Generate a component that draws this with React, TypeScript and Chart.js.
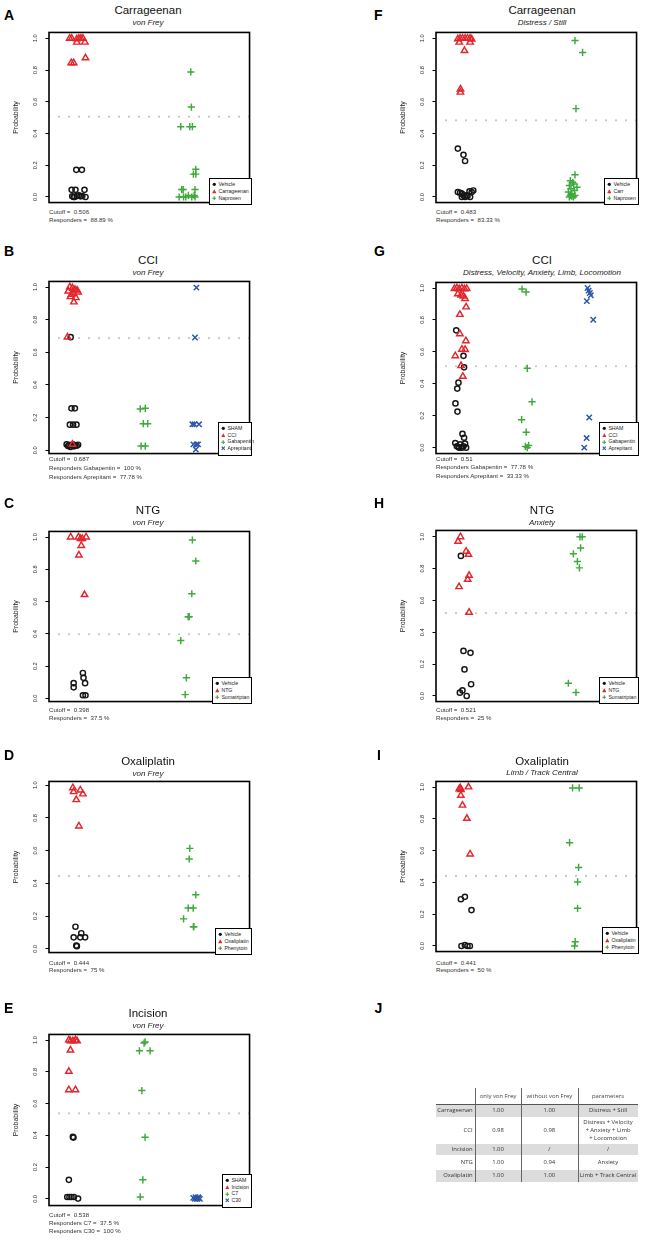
import React, { useEffect, useRef } from "react";
import { Chart, registerables } from "chart.js";
Chart.register(...registerables);

const FONT = '"Liberation Sans", Arial, Helvetica, sans-serif';
const TABLE_FONT = '"Open Sans", "Liberation Sans", sans-serif';

const yTicks = [0, 0.2, 0.4, 0.6, 0.8, 1.0];
const yTickLabels = ["0.0", "0.2", "0.4", "0.6", "0.8", "1.0"];

// ---------- A: Carrageenan, von Frey ----------
const aVehicleY = [0.171, 0.171, 0.045, 0.045, 0.045, 0.004, 0.0, 0.006, 0.01, 0.004, 0.006, 0.0, 0.0];
const aVehicleX = [0.136, 0.164, 0.113, 0.132, 0.177, 0.116, 0.127, 0.139, 0.149, 0.157, 0.166, 0.182, 0.123];
const aCarrY = [1.0, 1.0, 0.996, 1.0, 1.0, 1.0, 0.975, 0.975, 0.845, 0.845, 0.876];
const aCarrX = [0.103, 0.113, 0.139, 0.149, 0.159, 0.169, 0.139, 0.179, 0.111, 0.123, 0.182];
const aNapY = [0.788, 0.567, 0.443, 0.443, 0.443, 0.175, 0.144, 0.144, 0.047, 0.047, 0.047, 0, 0, 0.01, 0, 0, 0, 0.01];
const aNapX = [0.707, 0.71, 0.657, 0.702, 0.715, 0.732, 0.72, 0.732, 0.662, 0.669, 0.728, 0.649, 0.682, 0.695, 0.712, 0.728, 0.671, 0.724];

// ---------- B: CCI, von Frey ----------
const bShamY = [0.693, 0.257, 0.257, 0.157, 0.157, 0.157, 0.036, 0.026, 0.032, 0.02, 0.03, 0.036, 0.024, 0.03, 0.028, 0.034];
const bShamX = [0.108, 0.112, 0.129, 0.104, 0.12, 0.137, 0.088, 0.095, 0.101, 0.107, 0.113, 0.119, 0.125, 0.131, 0.138, 0.145];
const bCciY = [1.0, 0.994, 0.984, 0.98, 0.974, 0.964, 0.968, 0.94, 0.934, 0.908, 0.955, 0.693, 0.036];
const bCciX = [0.104, 0.117, 0.129, 0.14, 0.096, 0.12, 0.145, 0.107, 0.134, 0.124, 0.112, 0.092, 0.117];
const bGabaY = [0.253, 0.257, 0.163, 0.163, 0.026, 0.026];
const bGabaX = [0.455, 0.48, 0.47, 0.492, 0.459, 0.48];
const bAprY = [0.996, 0.691, 0.159, 0.159, 0.159, 0.036, 0.036, 0.036, 0.005];
const bAprX = [0.735, 0.728, 0.715, 0.748, 0.725, 0.72, 0.743, 0.735, 0.732];

// ---------- C: NTG, von Frey ----------
const cVehicleY = [0.158, 0.128, 0.095, 0.095, 0.069, 0.02, 0.02];
const cVehicleX = [0.169, 0.172, 0.123, 0.18, 0.123, 0.169, 0.182];
const cNtgY = [1.0, 1.0, 0.99, 0.99, 1.0, 0.947, 0.888, 0.643];
const cNtgX = [0.108, 0.147, 0.157, 0.166, 0.185, 0.161, 0.149, 0.177];
const cSumaY = [0.982, 0.852, 0.649, 0.507, 0.507, 0.359, 0.128, 0.024];
const cSumaX = [0.715, 0.732, 0.712, 0.694, 0.699, 0.657, 0.685, 0.679];

// ---------- D: Oxaliplatin, von Frey ----------
const dVehicleY = [0.135, 0.07, 0.095, 0.07, 0.07, 0.02, 0.016];
const dVehicleX = [0.132, 0.123, 0.161, 0.156, 0.18, 0.136, 0.139];
const dOxaY = [0.984, 0.96, 0.97, 0.946, 0.911, 0.75];
const dOxaX = [0.119, 0.123, 0.156, 0.169, 0.136, 0.149];
const dPheY = [0.614, 0.549, 0.33, 0.249, 0.249, 0.183, 0.135, 0.135];
const dPheX = [0.702, 0.699, 0.732, 0.694, 0.719, 0.671, 0.72, 0.722];

// ---------- E: Incision, von Frey ----------
const eShamY = [0.39, 0.386, 0.12, 0.012, 0.012, 0.012, 0.012, 0.002];
const eShamX = [0.119, 0.122, 0.099, 0.091, 0.102, 0.112, 0.124, 0.145];
const eIncY = [1.0, 0.994, 0.994, 1.0, 0.994, 0.936, 0.802, 0.686, 0.686];
const eIncX = [0.099, 0.107, 0.119, 0.132, 0.14, 0.107, 0.099, 0.099, 0.132];
const eC7Y = [0.981, 0.988, 0.932, 0.932, 0.682, 0.388, 0.12, 0.012];
const eC7X = [0.474, 0.479, 0.451, 0.504, 0.463, 0.479, 0.468, 0.455];
const eC30Y = [0.006, 0.0, 0.002, 0.01, 0.0, 0.01, 0.0, 0.006];
const eC30X = [0.719, 0.727, 0.736, 0.744, 0.752, 0.731, 0.74, 0.747];

// ---------- F: Carrageenan, Distress / Still ----------
const fVehicleY = [0.305, 0.266, 0.227, 0.031, 0.027, 0.021, 0.01, 0.0, 0.006, 0.035, 0.031, 0.041, 0.0, 0.0, 0.01];
const fVehicleX = [0.109, 0.137, 0.145, 0.109, 0.12, 0.129, 0.137, 0.145, 0.157, 0.167, 0.178, 0.186, 0.129, 0.17, 0.153];
const fCarrY = [0.996, 1.0, 1.0, 1.0, 1.0, 1.0, 0.994, 0.975, 0.975, 0.922, 0.68, 0.66];
const fCarrX = [0.109, 0.12, 0.132, 0.145, 0.157, 0.17, 0.178, 0.116, 0.17, 0.142, 0.122, 0.122];
const fNapY = [0.986, 0.911, 0.557, 0.14, 0.103, 0.093, 0.082, 0.072, 0.062, 0.052, 0.041, 0.031, 0.021, 0.01, 0.0, 0.0, 0.006, 0.01];
const fNapX = [0.693, 0.731, 0.698, 0.693, 0.67, 0.682, 0.687, 0.665, 0.703, 0.673, 0.69, 0.66, 0.677, 0.67, 0.665, 0.685, 0.677, 0.693];

// ---------- G: CCI, multi-parameter ----------
const gShamY = [0.735, 0.575, 0.503, 0.407, 0.37, 0.277, 0.226, 0.086, 0.062, 0.029, 0.008, 0.004, 0.021, 0.0, 0.008, 0.025, 0.0, 0.0];
const gShamX = [0.101, 0.137, 0.14, 0.112, 0.106, 0.097, 0.107, 0.132, 0.14, 0.096, 0.104, 0.112, 0.12, 0.129, 0.137, 0.145, 0.15, 0.116];
const gCciY = [0.996, 1.0, 0.994, 1.0, 0.994, 0.996, 0.963, 0.955, 0.949, 0.934, 0.881, 0.834, 0.713, 0.669, 0.616, 0.614, 0.575, 0.513, 0.446];
const gCciX = [0.092, 0.104, 0.116, 0.129, 0.142, 0.153, 0.109, 0.125, 0.137, 0.145, 0.15, 0.119, 0.119, 0.149, 0.129, 0.145, 0.096, 0.125, 0.134];
const gGabaY = [0.994, 0.975, 0.497, 0.287, 0.175, 0.097, 0.008, 0.014, 0.0];
const gGabaX = [0.429, 0.449, 0.455, 0.479, 0.427, 0.45, 0.446, 0.462, 0.455];
const gAprY = [1.0, 0.984, 0.969, 0.955, 0.918, 0.801, 0.189, 0.06, 0.0];
const gAprX = [0.756, 0.761, 0.767, 0.772, 0.752, 0.784, 0.764, 0.751, 0.739];

// ---------- H: NTG, Anxiety ----------
const hVehicleY = [0.88, 0.283, 0.271, 0.167, 0.074, 0.035, 0.021, 0.0];
const hVehicleX = [0.124, 0.137, 0.172, 0.142, 0.175, 0.132, 0.119, 0.153];
const hNtgY = [1.0, 0.971, 0.909, 0.889, 0.757, 0.732, 0.686, 0.525];
const hNtgX = [0.122, 0.11, 0.15, 0.162, 0.165, 0.158, 0.115, 0.165];
const hSumaY = [1.0, 1.0, 0.93, 0.893, 0.845, 0.805, 0.08, 0.022];
const hSumaX = [0.718, 0.729, 0.721, 0.685, 0.705, 0.715, 0.66, 0.698];

// ---------- I: Oxaliplatin, Limb / Track Central ----------
const iVehicleY = [0.294, 0.309, 0.226, 0.0, 0.006, 0.0, 0.0];
const iVehicleX = [0.124, 0.144, 0.177, 0.127, 0.144, 0.157, 0.169];
const iOxaY = [0.988, 0.984, 0.994, 1.0, 0.947, 0.885, 0.802, 0.578];
const iOxaX = [0.116, 0.124, 0.121, 0.162, 0.124, 0.132, 0.154, 0.17];
const iPheY = [0.994, 0.994, 0.65, 0.494, 0.403, 0.237, 0.027, 0.0];
const iPheX = [0.681, 0.714, 0.666, 0.711, 0.706, 0.706, 0.694, 0.691];

// ---------- J: table ----------
const tableHeaders = ["", "only von Frey", "without von Frey", "parameters"];
const tableModels = ["Carrageenan", "CCI", "Incision", "NTG", "Oxaliplatin"];
const onlyVonFrey = ["1.00", "0.98", "1.00", "1.00", "1.00"];
const withoutVonFrey = ["1.00", "0.98", "/", "0.94", "1.00"];
const tableParameters = [["Distress + Still"], ["Distress + Velocity", "+ Anxiety + Limb", "+ Locomotion"], ["/"], ["Anxiety"], ["Limb + Track Central"]];

type Kind = "circle" | "triangle" | "plus" | "x";
interface Group { label: string; kind: Kind; ys: number[]; xs: number[] }
interface Panel {
  letter: string; title: string; subtitle: string; col: 0 | 1;
  top: number; bottom: number; ymin: number; ymax: number; cutoff: number;
  titleY: number; subY: number; letterY: number; noteY: number[]; notes: string[];
  legendW: number; groups: Group[];
}

const COLORS: Record<Kind, string> = { circle: "#151515", triangle: "#e2262c", plus: "#3daa3a", x: "#2b55a8" };
const STYLE: Record<Kind, any> = {
  circle: { pointStyle: "circle", radius: 2.6 },
  triangle: { pointStyle: "triangle", radius: 3.7 },
  plus: { pointStyle: "cross", radius: 3.6 },
  x: { pointStyle: "crossRot", radius: 3.8 },
};

const panels: Panel[] = [
  {
    letter: "A", title: "Carrageenan", subtitle: "von Frey", col: 0, top: 31, bottom: 204, ymin: -0.035, ymax: 1.037, cutoff: 0.506,
    titleY: 10, subY: 23, letterY: 15, noteY: [212, 220.3], notes: ["Cutoff =  0.506", "Responders =  88.89 %"], legendW: 43,
    groups: [
      { label: "Vehicle", kind: "circle", ys: aVehicleY, xs: aVehicleX },
      { label: "Carrageenan", kind: "triangle", ys: aCarrY, xs: aCarrX },
      { label: "Naproxen", kind: "plus", ys: aNapY, xs: aNapX },
    ],
  },
  {
    letter: "B", title: "CCI", subtitle: "von Frey", col: 0, top: 280, bottom: 455, ymin: -0.02, ymax: 1.034, cutoff: 0.687,
    titleY: 260.7, subY: 273, letterY: 251, noteY: [459, 468, 477], notes: ["Cutoff =  0.687", "Responders Gabapentin =  100 %", "Responders Aprepitant =  77.78 %"], legendW: 34,
    groups: [
      { label: "SHAM", kind: "circle", ys: bShamY, xs: bShamX },
      { label: "CCI", kind: "triangle", ys: bCciY, xs: bCciX },
      { label: "Gabapentin", kind: "plus", ys: bGabaY, xs: bGabaX },
      { label: "Aprepitant", kind: "x", ys: bAprY, xs: bAprX },
    ],
  },
  {
    letter: "C", title: "NTG", subtitle: "von Frey", col: 0, top: 530, bottom: 703, ymin: -0.019, ymax: 1.035, cutoff: 0.398,
    titleY: 510, subY: 523, letterY: 503, noteY: [710, 718.3], notes: ["Cutoff =  0.398", "Responders =  37.5 %"], legendW: 40,
    groups: [
      { label: "Vehicle", kind: "circle", ys: cVehicleY, xs: cVehicleX },
      { label: "NTG", kind: "triangle", ys: cNtgY, xs: cNtgX },
      { label: "Sumatriptan", kind: "plus", ys: cSumaY, xs: cSumaX },
    ],
  },
  {
    letter: "D", title: "Oxaliplatin", subtitle: "von Frey", col: 0, top: 780, bottom: 954, ymin: -0.023, ymax: 1.023, cutoff: 0.444,
    titleY: 761, subY: 774, letterY: 755, noteY: [962.7, 970], notes: ["Cutoff =  0.444", "Responders =  75 %"], legendW: 37,
    groups: [
      { label: "Vehicle", kind: "circle", ys: dVehicleY, xs: dVehicleX },
      { label: "Oxaliplatin", kind: "triangle", ys: dOxaY, xs: dOxaX },
      { label: "Phenytoin", kind: "plus", ys: dPheY, xs: dPheX },
    ],
  },
  {
    letter: "E", title: "Incision", subtitle: "von Frey", col: 0, top: 1033, bottom: 1207, ymin: -0.042, ymax: 1.035, cutoff: 0.538,
    titleY: 1013, subY: 1025.7, letterY: 1008, noteY: [1215, 1222.5, 1230.7], notes: ["Cutoff =  0.538", "Responders C7 =  37.5 %", "Responders C30 =  100 %"], legendW: 30,
    groups: [
      { label: "SHAM", kind: "circle", ys: eShamY, xs: eShamX },
      { label: "Incision", kind: "triangle", ys: eIncY, xs: eIncX },
      { label: "C7", kind: "plus", ys: eC7Y, xs: eC7X },
      { label: "C30", kind: "x", ys: eC30Y, xs: eC30X },
    ],
  },
  {
    letter: "F", title: "Carrageenan", subtitle: "Distress / Still", col: 1, top: 31, bottom: 204, ymin: -0.035, ymax: 1.037, cutoff: 0.483,
    titleY: 10, subY: 23.3, letterY: 15, noteY: [211.7, 220], notes: ["Cutoff =  0.483", "Responders =  83.33 %"], legendW: 35,
    groups: [
      { label: "Vehicle", kind: "circle", ys: fVehicleY, xs: fVehicleX },
      { label: "Carr", kind: "triangle", ys: fCarrY, xs: fCarrX },
      { label: "Naproxen", kind: "plus", ys: fNapY, xs: fNapX },
    ],
  },
  {
    letter: "G", title: "CCI", subtitle: "Distress, Velocity, Anxiety, Limb, Locomotion", col: 1, top: 281, bottom: 455, ymin: -0.037, ymax: 1.035, cutoff: 0.51,
    titleY: 260.7, subY: 273, letterY: 251, noteY: [458.7, 467.3, 475.5], notes: ["Cutoff =  0.51", "Responders Gabapentin =  77.78 %", "Responders Aprepitant =  33.33 %"], legendW: 40,
    groups: [
      { label: "SHAM", kind: "circle", ys: gShamY, xs: gShamX },
      { label: "CCI", kind: "triangle", ys: gCciY, xs: gCciX },
      { label: "Gabapentin", kind: "plus", ys: gGabaY, xs: gGabaX },
      { label: "Aprepitant", kind: "x", ys: gAprY, xs: gAprX },
    ],
  },
  {
    letter: "H", title: "NTG", subtitle: "Anxiety", col: 1, top: 529, bottom: 703, ymin: -0.035, ymax: 1.04, cutoff: 0.521,
    titleY: 510, subY: 523.3, letterY: 502.7, noteY: [710, 718.3], notes: ["Cutoff =  0.521", "Responders =  25 %"], legendW: 40,
    groups: [
      { label: "Vehicle", kind: "circle", ys: hVehicleY, xs: hVehicleX },
      { label: "NTG", kind: "triangle", ys: hNtgY, xs: hNtgX },
      { label: "Sumatriptan", kind: "plus", ys: hSumaY, xs: hSumaX },
    ],
  },
  {
    letter: "I", title: "Oxaliplatin", subtitle: "Limb / Track Central", col: 1, top: 780, bottom: 953, ymin: -0.035, ymax: 1.035, cutoff: 0.441,
    titleY: 761, subY: 773.3, letterY: 755, noteY: [962.7, 969.5], notes: ["Cutoff =  0.441", "Responders =  50 %"], legendW: 37,
    groups: [
      { label: "Vehicle", kind: "circle", ys: iVehicleY, xs: iVehicleX },
      { label: "Oxaliplatin", kind: "triangle", ys: iOxaY, xs: iOxaX },
      { label: "Phenytoin", kind: "plus", ys: iPheY, xs: iPheX },
    ],
  },
];

const BOX_L = [49, 436];
const BOX_W = 202;
const AXIS_W = 40;
const PAD = 4;
const TITLE_CX = [148, 542];
const LETTER_X = [4, 374];

const boxPlugin = {
  id: "rbox",
  afterDatasetsDraw(chart: any) {
    const { ctx, chartArea } = chart;
    const { left, top, right, bottom } = chartArea;
    ctx.save();
    ctx.strokeStyle = "#000";
    ctx.lineWidth = 1.6;
    ctx.strokeRect(left, top, right - left, bottom - top);
    ctx.restore();
  },
};

function Plot({ p }: { p: Panel }) {
  const ref = useRef<HTMLCanvasElement>(null);
  const W = BOX_W + AXIS_W + PAD;
  const H = p.bottom - p.top + 2 * PAD;
  useEffect(() => {
    if (!ref.current) return;
    const pointSets = p.groups.map((g) => ({
      label: g.label,
      data: g.ys.map((y, i) => ({ x: g.xs[i], y })),
      pointStyle: STYLE[g.kind].pointStyle,
      pointRadius: STYLE[g.kind].radius,
      pointBorderWidth: 1.45,
      pointBorderColor: COLORS[g.kind],
      pointBackgroundColor: "rgba(0,0,0,0)",
      borderColor: COLORS[g.kind],
      backgroundColor: "rgba(0,0,0,0)",
    }));
    const cutoffSet = {
      label: "cutoff",
      data: [{ x: 0, y: p.cutoff }, { x: 1, y: p.cutoff }],
      showLine: true,
      borderColor: "#c4c4c4",
      borderWidth: 2.2,
      borderDash: [0, 10],
      borderCapStyle: "round",
      pointRadius: 0,
      fill: false,
    };
    const chart = new Chart(ref.current, {
      type: "scatter",
      data: { datasets: [...pointSets.reverse(), cutoffSet] as any },
      options: {
        responsive: false,
        animation: false,
        devicePixelRatio: 1,
        events: [],
        layout: { padding: { left: 0, right: PAD, top: PAD, bottom: PAD } },
        plugins: { legend: { display: false }, tooltip: { enabled: false } },
        scales: {
          x: { type: "linear", min: 0, max: 1, display: false },
          y: {
            type: "linear",
            position: "left",
            min: p.ymin,
            max: p.ymax,
            afterBuildTicks: (s: any) => { s.ticks = yTicks.map((v) => ({ value: v })); },
            afterFit: (s: any) => { s.width = AXIS_W; s.paddingTop = 0; s.paddingBottom = 0; },
            ticks: {
              callback: (_v: any, i: number) => yTickLabels[i],
              minRotation: 90,
              maxRotation: 90,
              crossAlign: "center",
              padding: 6,
              font: { size: 5.6, family: FONT },
              color: "#222",
            },
            grid: { display: true, drawOnChartArea: false, drawTicks: true, tickLength: 3.5, color: "#000", lineWidth: 1 },
            border: { display: false },
            title: { display: true, text: "Probability", font: { size: 7, family: FONT }, color: "#222", padding: { top: 2.8, bottom: 0 } },
          },
        },
      } as any,
      plugins: [boxPlugin],
    });
    return () => chart.destroy();
  }, []);
  return (
    <canvas ref={ref} width={W} height={H}
      style={{ position: "absolute", left: BOX_L[p.col] - AXIS_W, top: p.top - PAD, width: W, height: H }} />
  );
}

function Txt(props: { x: number; y: number; size: number; children: any; center?: boolean; bold?: boolean; italic?: boolean; color?: string; family?: string; right?: boolean }) {
  const h = props.size * 1.3;
  const style: any = {
    position: "absolute", top: props.y - h / 2, height: h, lineHeight: `${h}px`, fontSize: props.size,
    fontFamily: props.family || FONT, fontWeight: props.bold ? "bold" : "normal", fontStyle: props.italic ? "italic" : "normal",
    color: props.color || "#222", whiteSpace: "pre",
  };
  if (props.center) { style.left = props.x - 150; style.width = 300; style.textAlign = "center"; }
  else if (props.right) { style.left = props.x - 200; style.width = 200; style.textAlign = "right"; }
  else style.left = props.x;
  return <div style={style}>{props.children}</div>;
}

function Sym({ kind }: { kind: Kind }) {
  const c = COLORS[kind];
  if (kind === "circle") return <circle cx="5" cy="5" r="3.6" fill={c} />;
  if (kind === "triangle") return <polygon points="5,0.6 9.6,9.2 0.4,9.2" fill={c} />;
  if (kind === "plus") return <path d="M5 0.5V9.5M0.5 5H9.5" stroke={c} strokeWidth="2.4" />;
  return <path d="M1.5 1.5L8.5 8.5M8.5 1.5L1.5 8.5" stroke={c} strokeWidth="2.4" />;
}

function LegendBox({ p }: { p: Panel }) {
  const boxR = BOX_L[p.col] + BOX_W;
  const n = p.groups.length;
  const h = n === 4 ? 34 : 26.8;
  const B = 1.3;
  return (
    <div style={{ position: "absolute", left: boxR - p.legendW + 0.8, top: p.bottom - h + 0.8, width: p.legendW, height: h, boxSizing: "border-box", border: `${B}px solid #000`, background: "#fff" }}>
      {p.groups.map((g, i) => {
        const cy = 7 + i * 6.7 - B;
        return (
          <React.Fragment key={g.label}>
            <svg width="4.6" height="4.6" viewBox="0 0 10 10" style={{ position: "absolute", left: 1.8, top: cy - 2.3 }}>
              <Sym kind={g.kind} />
            </svg>
            <div style={{ position: "absolute", left: 8.6, top: cy - 3.5, height: 7, lineHeight: "7px", fontSize: 5.2, fontFamily: FONT, color: "#222", whiteSpace: "nowrap" }}>{g.label}</div>
          </React.Fragment>
        );
      })}
    </div>
  );
}

function PanelView({ p }: { p: Panel }) {
  return (
    <>
      <Txt x={p.letter === "I" ? 377 : LETTER_X[p.col]} y={p.letterY} size={14} bold color="#000">{p.letter}</Txt>
      <Txt x={TITLE_CX[p.col]} y={p.titleY} size={11.5} center color="#111">{p.title}</Txt>
      <Txt x={TITLE_CX[p.col]} y={p.subY} size={8} center italic color="#222">{p.subtitle}</Txt>
      <Plot p={p} />
      <LegendBox p={p} />
      {p.notes.map((t, i) => (
        <Txt key={i} x={BOX_L[p.col]} y={p.noteY[i]} size={6.1} color="#333">{t}</Txt>
      ))}
    </>
  );
}

const COL_EDGES = [436.3, 475.3, 520.7, 578, 638];
const ROW_TOPS = [1105.3, 1117.3, 1144, 1156, 1170];
const ROW_BOTTOMS = [1116.7, 1144, 1155.3, 1169, 1181.7];
const TABLE_TOP = 1088.3;
const HEADER_BOTTOM = 1104;

function TableJ() {
  const fs = 5.9;
  const col = "#333";
  const cells: any[] = [];
  tableHeaders.forEach((h, i) => {
    if (!h) return;
    cells.push(<Txt key={"h" + i} x={(COL_EDGES[i] + COL_EDGES[i + 1]) / 2} y={1096.7} size={fs} center color="#444" family={TABLE_FONT}>{h}</Txt>);
  });
  tableModels.forEach((m, r) => {
    const cy = (ROW_TOPS[r] + ROW_BOTTOMS[r]) / 2;
    if (r % 2 === 0) {
      cells.push(<div key={"bg" + r} style={{ position: "absolute", left: COL_EDGES[0], top: ROW_TOPS[r], width: COL_EDGES[4] - COL_EDGES[0], height: ROW_BOTTOMS[r] - ROW_TOPS[r], background: "#dcdcdc" }} />);
    }
    cells.push(<Txt key={"m" + r} x={472.7} y={cy} size={fs} right color={col} family={TABLE_FONT}>{m}</Txt>);
    cells.push(<Txt key={"a" + r} x={(COL_EDGES[1] + COL_EDGES[2]) / 2} y={cy} size={fs} center color={col} family={TABLE_FONT}>{onlyVonFrey[r]}</Txt>);
    cells.push(<Txt key={"b" + r} x={(COL_EDGES[2] + COL_EDGES[3]) / 2} y={cy} size={fs} center color={col} family={TABLE_FONT}>{withoutVonFrey[r]}</Txt>);
    const lines = tableParameters[r];
    lines.forEach((ln, k) => {
      const y = cy + (k - (lines.length - 1) / 2) * 7.8;
      cells.push(<Txt key={"p" + r + "_" + k} x={(COL_EDGES[3] + COL_EDGES[4]) / 2} y={y} size={fs} center color={col} family={TABLE_FONT}>{ln}</Txt>);
    });
  });
  return (
    <>
      <Txt x={374.5} y={1008} size={14} bold color="#000">J</Txt>
      {cells}
      <div style={{ position: "absolute", left: COL_EDGES[0], top: HEADER_BOTTOM, width: COL_EDGES[4] - COL_EDGES[0], height: 0.9, background: "#555" }} />
      {[1, 2, 3].map((i) => (
        <div key={"v" + i} style={{ position: "absolute", left: COL_EDGES[i], top: TABLE_TOP, width: 0.9, height: ROW_BOTTOMS[4] - TABLE_TOP, background: "#666" }} />
      ))}
    </>
  );
}

export default function App() {
  return (
    <div style={{ position: "absolute", left: 0, top: 0, width: 645, height: 1240, background: "#fff", overflow: "hidden" }}>
      {panels.map((p) => <PanelView key={p.letter} p={p} />)}
      <TableJ />
    </div>
  );
}
